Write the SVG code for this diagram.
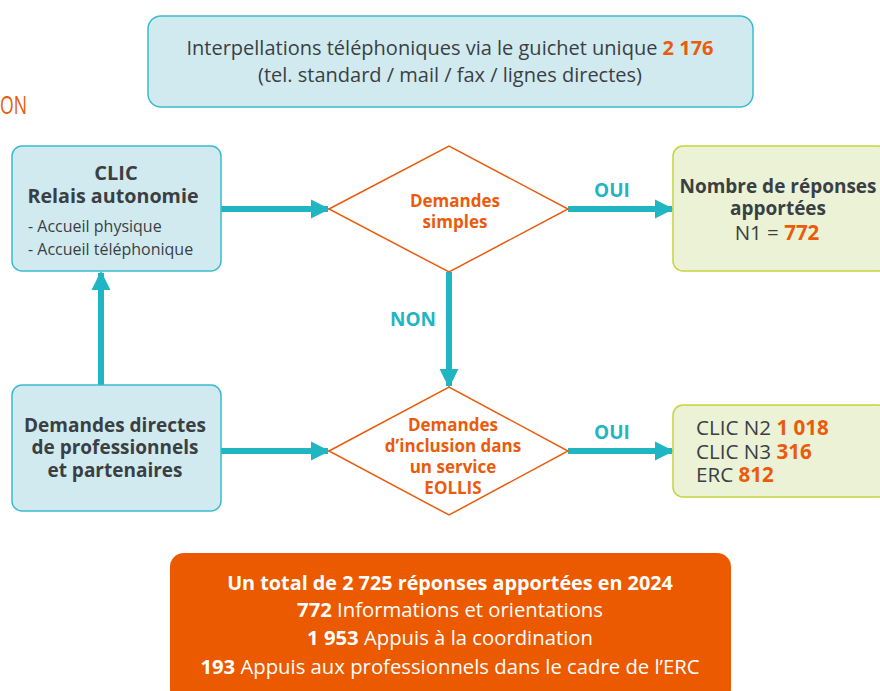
<svg xmlns="http://www.w3.org/2000/svg" width="880" height="691" viewBox="0 0 880 691">
<defs>
<style>
text{font-family:"Open Sans","Noto Sans","Liberation Sans",sans-serif;}
.box{fill:#d1eaf0;stroke:#3bbccb;stroke-width:1.5;}
.gbox{fill:#ebf2d6;stroke:#c6d43c;stroke-width:1.5;}
.dia{fill:#ffffff;stroke:#ea5b0c;stroke-width:1.5;}
.dk{fill:#3a3f44;}
.or{fill:#ea5b0c;}
.b{font-weight:bold;}
.lbl{fill:#1fb5c2;font-weight:bold;font-size:19px;text-anchor:middle;}
.c{stroke:#1fb5c2;stroke-width:6;fill:none;}
</style>
<marker id="ah" viewBox="0 0 10 10" refX="9" refY="5" markerWidth="3.2" markerHeight="3.2" orient="auto" markerUnits="strokeWidth">
<path d="M0,0 L10,5 L0,10 z" fill="#1fb5c2"/>
</marker>
</defs>
<rect width="880" height="691" fill="#ffffff"/>
<text x="0" y="114" class="or" font-size="26" textLength="27" lengthAdjust="spacingAndGlyphs">ON</text>

<g id="connectors">
<line class="c" x1="221" y1="209" x2="328" y2="209" marker-end="url(#ah)"/>
<line class="c" x1="568" y1="209" x2="672" y2="209" marker-end="url(#ah)"/>
<line class="c" x1="449" y1="272" x2="449" y2="386" marker-end="url(#ah)"/>
<line class="c" x1="221" y1="451" x2="328" y2="451" marker-end="url(#ah)"/>
<line class="c" x1="568" y1="451" x2="672" y2="451" marker-end="url(#ah)"/>
<line class="c" x1="101" y1="385" x2="101" y2="273" marker-end="url(#ah)"/>
<text x="612" y="197" class="lbl">OUI</text>
<text x="413" y="326" class="lbl">NON</text>
<text x="612" y="439" class="lbl">OUI</text>
</g>

<g id="guichet">
<rect class="box" x="148" y="16" width="605" height="91" rx="13"/>
<text x="450" y="55" class="dk" font-size="20" text-anchor="middle">Interpellations téléphoniques via le guichet unique <tspan class="or b">2 176</tspan></text>
<text x="450" y="82" class="dk" font-size="20" text-anchor="middle">(tel. standard / mail / fax / lignes directes)</text>
</g>

<g id="clic">
<rect class="box" x="12" y="146" width="209" height="125" rx="10"/>
<text x="116" y="180" class="dk b" font-size="20" text-anchor="middle">CLIC</text>
<text x="113" y="203" class="dk b" font-size="19.7" text-anchor="middle">Relais autonomie</text>
<text x="28" y="232" class="dk" font-size="16">- Accueil physique</text>
<text x="28" y="255" class="dk" font-size="16">- Accueil téléphonique</text>
</g>

<g id="simples">
<polygon class="dia" points="329,209 449,146 568,209 449,272"/>
<text x="455" y="207" class="or b" font-size="17" text-anchor="middle">Demandes</text>
<text x="455" y="228" class="or b" font-size="17" text-anchor="middle">simples</text>
</g>

<g id="reponses">
<rect class="gbox" x="673" y="146" width="215" height="125" rx="10"/>
<text x="778" y="193" class="dk b" font-size="19" text-anchor="middle">Nombre de réponses</text>
<text x="778" y="215" class="dk b" font-size="19" text-anchor="middle">apportées</text>
<text x="777" y="240" class="dk" font-size="20.5" text-anchor="middle">N1 = <tspan class="or b">772</tspan></text>
</g>

<g id="directes">
<rect class="box" x="12" y="385" width="209" height="126" rx="10"/>
<text x="115" y="432" class="dk b" font-size="19" text-anchor="middle">Demandes directes</text>
<text x="115" y="454" class="dk b" font-size="19" text-anchor="middle">de professionnels</text>
<text x="115" y="477" class="dk b" font-size="19" text-anchor="middle">et partenaires</text>
</g>

<g id="inclusion">
<polygon class="dia" points="329,451 449,387 568,451 449,515"/>
<text x="453" y="431" class="or b" font-size="17" text-anchor="middle">Demandes</text>
<text x="453" y="452" class="or b" font-size="17" text-anchor="middle">d’inclusion dans</text>
<text x="453" y="473" class="or b" font-size="17" text-anchor="middle">un service</text>
<text x="453" y="494" class="or b" font-size="17" text-anchor="middle">EOLLIS</text>
</g>

<g id="services">
<rect class="gbox" x="673" y="405" width="215" height="92" rx="10"/>
<text x="696" y="435" class="dk" font-size="20.6">CLIC N2 <tspan class="or b">1 018</tspan></text>
<text x="696" y="459" class="dk" font-size="20.6">CLIC N3 <tspan class="or b">316</tspan></text>
<text x="696" y="482" class="dk" font-size="20.6">ERC <tspan class="or b">812</tspan></text>
</g>

<g id="total">
<rect x="170" y="553" width="561" height="150" rx="14" fill="#ec5a00"/>
<text x="450" y="590" fill="#ffffff" class="b" font-size="19.8" text-anchor="middle">Un total de 2 725 réponses apportées en 2024</text>
<text x="450" y="617" fill="#ffffff" font-size="20.3" text-anchor="middle"><tspan class="b">772</tspan> Informations et orientations</text>
<text x="450" y="645" fill="#ffffff" font-size="20.3" text-anchor="middle"><tspan class="b">1 953</tspan> Appuis à la coordination</text>
<text x="450" y="674" fill="#ffffff" font-size="20.3" text-anchor="middle"><tspan class="b">193</tspan> Appuis aux professionnels dans le cadre de l’ERC</text>
</g>
</svg>
